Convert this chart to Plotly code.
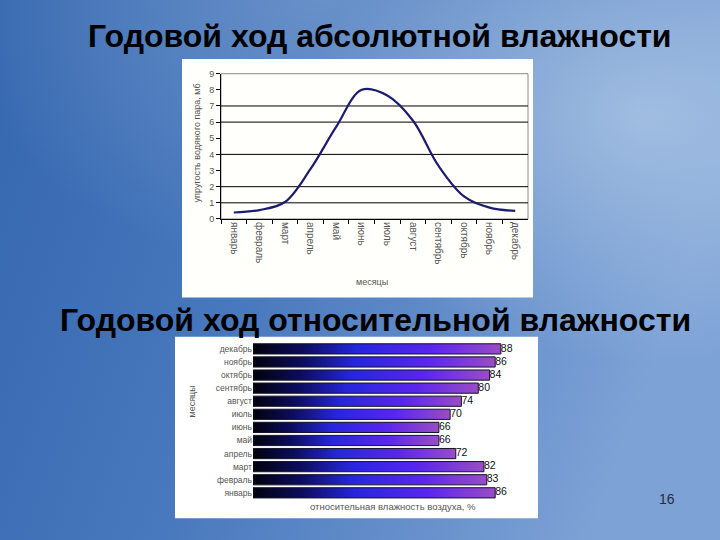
import base64
import plotly.graph_objects as go

# ---------------- data ----------------
months_abs = ["январь", "февраль", "март", "апрель", "май", "июнь",
              "июль", "август", "сентябрь", "октябрь", "ноябрь", "декабрь"]
abs_values = [0.40, 0.55, 1.05, 3.1, 5.7, 8.0, 7.65, 6.1, 3.3, 1.4, 0.7, 0.5]
abs_ticks = [0, 1, 2, 3, 4, 5, 6, 7, 8, 9]
grid_levels = [1, 2, 4, 6, 7]

months_rel = ["январь", "февраль", "март", "апрель", "май", "июнь",
              "июль", "август", "сентябрь", "октябрь", "ноябрь", "декабрь"]
rel_values = [86, 83, 82, 72, 66, 66, 70, 74, 80, 84, 86, 88]

title_abs = "Годовой ход абсолютной влажности"
title_rel = "Годовой ход относительной влажности"
ytitle_abs = "упругость водяного пара, мб"
xtitle_abs = "месяцы"
ytitle_rel = "месяцы"
xtitle_rel = "относительная влажность воздуха, %"
page_no = "16"

# ---------------- background ----------------
svg = """<svg xmlns='http://www.w3.org/2000/svg' width='720' height='540' viewBox='0 0 720 540' preserveAspectRatio='none'>
<defs>
<linearGradient id='g' x1='0' y1='0' x2='1' y2='0.25'>
<stop offset='0' stop-color='#3466ae'/>
<stop offset='0.45' stop-color='#4878bd'/>
<stop offset='1' stop-color='#7da2d6'/>
</linearGradient>
<radialGradient id='r' cx='0.88' cy='0.22' r='0.45'>
<stop offset='0' stop-color='#b4cce8' stop-opacity='0.7'/>
<stop offset='1' stop-color='#b4cce8' stop-opacity='0'/>
</radialGradient>
<radialGradient id='t' cx='0.45' cy='0.0' r='0.5'>
<stop offset='0' stop-color='#7fa2d2' stop-opacity='0.6'/>
<stop offset='1' stop-color='#7fa2d2' stop-opacity='0'/>
</radialGradient>
</defs>
<rect width='720' height='540' fill='url(#g)'/>
<rect width='720' height='540' fill='url(#t)'/>
<rect width='720' height='540' fill='url(#r)'/>
</svg>"""
bg_uri = "data:image/svg+xml;base64," + base64.b64encode(svg.encode()).decode()

fig = go.Figure()

# ---------------- chart 1: absolute humidity ----------------
fig.add_trace(go.Scatter(
    x=months_abs, y=abs_values, mode="lines", line_shape="spline",
    line=dict(color="#1c1c6e", width=2.2), xaxis="x", yaxis="y",
    showlegend=False, hoverinfo="skip"))

# ---------------- chart 2: relative humidity (gradient bars) ----------------
bar_colors = [[0.0, "#02020c"], [0.2, "#0c0c5c"], [0.42, "#2626dc"],
              [0.72, "#5a26ee"], [1.0, "#9a4cc6"]]
half = 0.39
for i, v in enumerate(rel_values):
    fig.add_trace(go.Scatter(
        x=[0, v, v, 0, 0], y=[i - half, i - half, i + half, i + half, i - half],
        mode="lines", fill="toself",
        fillgradient=dict(type="horizontal", colorscale=bar_colors),
        line=dict(color="#141428", width=1),
        xaxis="x2", yaxis="y2", showlegend=False, hoverinfo="skip"))

fig.add_trace(go.Scatter(
    x=rel_values, y=list(range(len(rel_values))), mode="text",
    text=[str(v) for v in rel_values], textposition="middle right",
    textfont=dict(family="Liberation Sans, Arial", size=10.5, color="#111111"),
    xaxis="x2", yaxis="y2", showlegend=False, hoverinfo="skip"))

xtick_font = dict(family="Liberation Sans, Arial", size=10, color="#555555")
ytick_font = dict(family="Liberation Sans, Arial", size=9, color="#555555")
tick_font2 = dict(family="Liberation Sans, Arial", size=8.5, color="#555555")

fig.update_layout(
    width=720, height=540,
    margin=dict(l=0, r=0, t=0, b=0),
    paper_bgcolor="#4a78bd", plot_bgcolor="rgba(0,0,0,0)",
    images=[dict(source=bg_uri, xref="paper", yref="paper", x=-0.02, y=1.02,
                 sizex=1.04, sizey=1.04, sizing="stretch", layer="below",
                 xanchor="left", yanchor="top")],
    xaxis=dict(domain=[221 / 720, 528 / 720], anchor="y", type="category",
               range=[-0.5, 11.5], tickangle=90, ticks="outside",
               tickson="boundaries", ticklen=4, tickcolor="#000000",
               showline=True, linecolor="#000000", linewidth=1,
               showgrid=False, tickfont=xtick_font, fixedrange=True),
    yaxis=dict(domain=[(540 - 218) / 540, (540 - 70) / 540], anchor="x",
               range=[0, 9], tickvals=abs_ticks, ticks="outside", ticklen=4,
               tickcolor="#000000", showline=True, linecolor="#000000",
               linewidth=1, showgrid=False, zeroline=False,
               tickfont=ytick_font, fixedrange=True),
    xaxis2=dict(domain=[253 / 720, 529 / 720], anchor="y2", range=[0, 98],
                showticklabels=False, showgrid=False, zeroline=False,
                showline=False, ticks="", fixedrange=True),
    yaxis2=dict(domain=[(540 - 503.7) / 540, (540 - 343.7) / 540], anchor="x2",
                range=[-0.5, 11.5], tickvals=list(range(len(months_rel))),
                ticktext=months_rel, showgrid=False, zeroline=False,
                showline=False, ticks="", tickfont=tick_font2, fixedrange=True),
)

shapes = [
    # white chart panels
    dict(type="rect", xref="paper", yref="paper", x0=182 / 720, x1=533 / 720,
         y0=(540 - 298) / 540, y1=(540 - 55) / 540, fillcolor="#fffffb",
         line=dict(width=0), layer="below"),
    dict(type="rect", xref="paper", yref="paper", x0=175 / 720, x1=538 / 720,
         y0=(540 - 523) / 540, y1=(540 - 338) / 540, fillcolor="#ffffff",
         line=dict(width=0), layer="below"),
    # plot-area border of chart 1
    dict(type="rect", xref="x domain", yref="y domain", x0=0, x1=1, y0=0, y1=1,
         line=dict(color="#8a8a8a", width=1), layer="below"),
]
for lv in grid_levels:
    shapes.append(dict(type="line", xref="x domain", yref="y", x0=0, x1=1,
                       y0=lv, y1=lv, line=dict(color="#000000", width=1),
                       layer="below"))
fig.update_layout(shapes=shapes)

title_font = dict(family="Liberation Sans, Arial", size=32, color="#000000")
small = dict(family="Liberation Sans, Arial", size=9, color="#555555")
small2 = dict(family="Liberation Sans, Arial", size=9.5, color="#555555")
fig.update_layout(annotations=[
    dict(text="<b>" + title_abs + "</b>", xref="paper", yref="paper",
         x=380 / 720, y=(540 - 32) / 540, showarrow=False, font=title_font,
         xanchor="center", yanchor="middle"),
    dict(text="<b>" + title_rel + "</b>", xref="paper", yref="paper",
         x=375 / 720, y=(540 - 321) / 540, showarrow=False, font=title_font,
         xanchor="center", yanchor="middle"),
    dict(text=ytitle_abs, xref="paper", yref="paper", x=197 / 720,
         y=(540 - 141) / 540, textangle=-90, showarrow=False, font=small,
         xanchor="center", yanchor="middle"),
    dict(text=xtitle_abs, xref="paper", yref="paper", x=372 / 720,
         y=(540 - 282) / 540, showarrow=False, font=small,
         xanchor="center", yanchor="middle"),
    dict(text=ytitle_rel, xref="paper", yref="paper", x=192 / 720,
         y=(540 - 404) / 540, textangle=-90, showarrow=False, font=small,
         xanchor="center", yanchor="middle"),
    dict(text=xtitle_rel, xref="paper", yref="paper", x=393 / 720,
         y=(540 - 511) / 540, showarrow=False, font=small2,
         xanchor="center", yanchor="middle"),
    dict(text=page_no, xref="paper", yref="paper", x=667 / 720,
         y=(540 - 503) / 540, showarrow=False,
         font=dict(family="Liberation Sans, Arial", size=14, color="#2a2a3a"),
         xanchor="center", yanchor="middle"),
])

fig.write_html("out.html", config={"displayModeBar": False},
               post_script="document.body.style.margin='0px';"
                           "document.body.style.padding='0px';"
                           "document.body.style.overflow='hidden';")
